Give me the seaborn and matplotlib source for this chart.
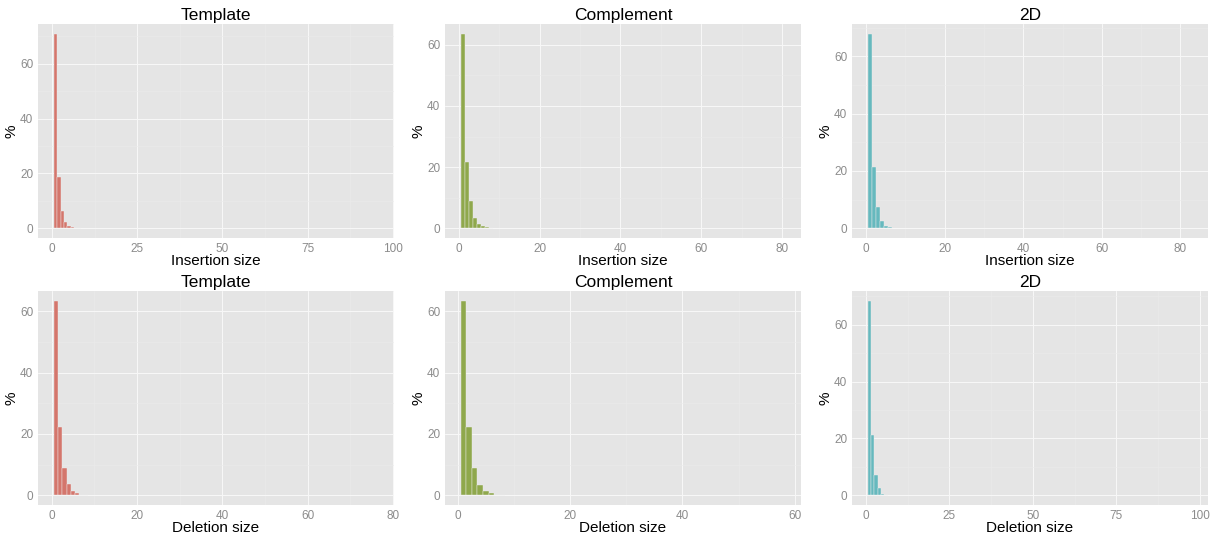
import matplotlib
matplotlib.use("Agg")
import matplotlib.pyplot as plt
import seaborn as sns
import numpy as np
import pandas as pd
from matplotlib.ticker import MultipleLocator

# ---- data (percent of indels by size) ----
template_ins_size = [1, 2, 3, 4, 5, 6, 7, 8]
template_ins_pct = [71.0, 18.7, 6.3, 2.2, 1.0, 0.45, 0.2, 0.1]
complement_ins_size = [1, 2, 3, 4, 5, 6, 7, 8]
complement_ins_pct = [63.6, 21.7, 8.8, 3.5, 1.5, 0.8, 0.4, 0.15]
twod_ins_size = [1, 2, 3, 4, 5, 6]
twod_ins_pct = [67.9, 21.5, 7.4, 2.4, 0.8, 0.3]

template_del_size = [1, 2, 3, 4, 5, 6, 7, 8]
template_del_pct = [63.5, 22.2, 8.9, 3.7, 1.5, 0.6, 0.25, 0.1]
complement_del_size = [1, 2, 3, 4, 5, 6, 7, 8]
complement_del_pct = [63.5, 22.4, 8.75, 3.4, 1.5, 0.6, 0.2, 0.08]
twod_del_size = [1, 2, 3, 4, 5, 6]
twod_del_pct = [68.4, 21.1, 7.3, 2.4, 0.6, 0.2]

titles = ["Template", "Complement", "2D"]
xlabels = ["Insertion size", "Deletion size"]
colors = ["#D4766C", "#8FA84C", "#66B9BE"]

panels = [
    (template_ins_size, template_ins_pct, 0, 0, (-4.1, 100.3), 25),
    (complement_ins_size, complement_ins_pct, 0, 1, (-3.4, 84.7), 20),
    (twod_ins_size, twod_ins_pct, 0, 2, (-3.57, 87.0), 20),
    (template_del_size, template_del_pct, 1, 0, (-3.2, 80.2), 20),
    (complement_del_size, complement_del_pct, 1, 1, (-2.26, 61.1), 20),
    (twod_del_size, twod_del_pct, 1, 2, (-4.2, 102.5), 25),
]

sns.set_theme(style="darkgrid")
plt.rcParams["font.family"] = ["Liberation Sans", "DejaVu Sans"]

fig = plt.figure(figsize=(12.11, 5.33), dpi=100)

lefts = [38 / 1211, 445 / 1211, 852 / 1211]
width = 356 / 1211
bottoms = [1 - 238 / 533, 1 - 505 / 533]
height = 214 / 533

for sizes, pct, r, c, xlim, xstep in panels:
    ax = fig.add_axes([lefts[c], bottoms[r], width, height])
    ax.set_facecolor("#E5E5E5")
    df = pd.DataFrame({"size": sizes, "pct": pct})
    sns.histplot(data=df, x="size", weights="pct", discrete=True, ax=ax,
                 color=colors[c], alpha=1.0, edgecolor="#EDEDED", linewidth=0.3)
    ymax = max(pct)
    ax.set_ylim(-0.05 * ymax, 1.05 * ymax)
    ax.set_xlim(*xlim)
    ax.xaxis.set_major_locator(MultipleLocator(xstep))
    ax.xaxis.set_minor_locator(MultipleLocator(xstep / 2))
    ax.yaxis.set_major_locator(MultipleLocator(20))
    ax.yaxis.set_minor_locator(MultipleLocator(10))
    ax.grid(which="major", color="#F8F8F8", linewidth=0.7)
    ax.grid(which="minor", color="#EBEBEB", linewidth=0.4)
    ax.set_axisbelow(True)
    for s in ax.spines.values():
        s.set_visible(False)
    ax.tick_params(axis="both", which="major", length=2, width=0.5, color="#8C8C8C",
                   labelcolor="#8C8C8C", labelsize=8.5, pad=1.5)
    ax.tick_params(axis="both", which="minor", length=0)
    ax.set_title(titles[c], fontsize=12.5, color="black", pad=3)
    ax.set_xlabel(xlabels[r], fontsize=11, color="black", labelpad=-0.5)
    ax.set_ylabel("%", fontsize=11, color="black", labelpad=1)

fig.savefig("out.png", dpi=100)
